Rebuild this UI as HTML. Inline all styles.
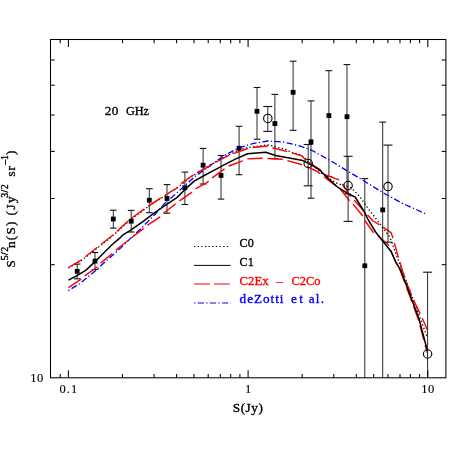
<!DOCTYPE html>
<html><head><meta charset="utf-8"><title>20 GHz source counts</title>
<style>html,body{margin:0;padding:0;background:#fff;}body{width:463px;height:463px;position:relative;overflow:hidden;font-family:"Liberation Serif",serif;}</style>
</head><body>
<svg width="463" height="463" viewBox="0 0 463 463" style="position:absolute;left:0;top:0;will-change:transform;transform:translateZ(0)">
<rect x="0" y="0" width="463" height="463" fill="#fff"/>
<line x1="77.2" y1="264.1" x2="77.2" y2="278.8" stroke="#2a2a2a" stroke-width="1.0"/>
<line x1="73.9" y1="264.1" x2="80.5" y2="264.1" stroke="#111" stroke-width="1.1"/>
<line x1="73.9" y1="278.8" x2="80.5" y2="278.8" stroke="#111" stroke-width="1.1"/>
<rect x="74.8" y="268.9" width="4.8" height="4.8" fill="#000"/>
<line x1="95.0" y1="252.5" x2="95.0" y2="269.5" stroke="#2a2a2a" stroke-width="1.0"/>
<line x1="91.7" y1="252.5" x2="98.3" y2="252.5" stroke="#111" stroke-width="1.1"/>
<line x1="91.7" y1="269.5" x2="98.3" y2="269.5" stroke="#111" stroke-width="1.1"/>
<rect x="92.6" y="258.7" width="4.8" height="4.8" fill="#000"/>
<line x1="113.3" y1="210.2" x2="113.3" y2="228.1" stroke="#2a2a2a" stroke-width="1.0"/>
<line x1="110.0" y1="210.2" x2="116.6" y2="210.2" stroke="#111" stroke-width="1.1"/>
<line x1="110.0" y1="228.1" x2="116.6" y2="228.1" stroke="#111" stroke-width="1.1"/>
<rect x="110.9" y="216.6" width="4.8" height="4.8" fill="#000"/>
<line x1="131.2" y1="210.4" x2="131.2" y2="232.0" stroke="#2a2a2a" stroke-width="1.0"/>
<line x1="127.8" y1="210.4" x2="134.5" y2="210.4" stroke="#111" stroke-width="1.1"/>
<line x1="127.8" y1="232.0" x2="134.5" y2="232.0" stroke="#111" stroke-width="1.1"/>
<rect x="128.8" y="218.8" width="4.8" height="4.8" fill="#000"/>
<line x1="149.3" y1="188.7" x2="149.3" y2="212.7" stroke="#2a2a2a" stroke-width="1.0"/>
<line x1="146.0" y1="188.7" x2="152.7" y2="188.7" stroke="#111" stroke-width="1.1"/>
<line x1="146.0" y1="212.7" x2="152.7" y2="212.7" stroke="#111" stroke-width="1.1"/>
<rect x="146.9" y="197.8" width="4.8" height="4.8" fill="#000"/>
<line x1="167.0" y1="184.6" x2="167.0" y2="213.2" stroke="#2a2a2a" stroke-width="1.0"/>
<line x1="163.7" y1="184.6" x2="170.3" y2="184.6" stroke="#111" stroke-width="1.1"/>
<line x1="163.7" y1="213.2" x2="170.3" y2="213.2" stroke="#111" stroke-width="1.1"/>
<rect x="164.6" y="196.1" width="4.8" height="4.8" fill="#000"/>
<line x1="184.9" y1="172.1" x2="184.9" y2="204.5" stroke="#2a2a2a" stroke-width="1.0"/>
<line x1="181.6" y1="172.1" x2="188.2" y2="172.1" stroke="#111" stroke-width="1.1"/>
<line x1="181.6" y1="204.5" x2="188.2" y2="204.5" stroke="#111" stroke-width="1.1"/>
<rect x="182.5" y="185.3" width="4.8" height="4.8" fill="#000"/>
<line x1="203.1" y1="148.4" x2="203.1" y2="184.0" stroke="#2a2a2a" stroke-width="1.0"/>
<line x1="199.8" y1="148.4" x2="206.4" y2="148.4" stroke="#111" stroke-width="1.1"/>
<line x1="199.8" y1="184.0" x2="206.4" y2="184.0" stroke="#111" stroke-width="1.1"/>
<rect x="200.7" y="162.8" width="4.8" height="4.8" fill="#000"/>
<line x1="221.0" y1="155.5" x2="221.0" y2="199.1" stroke="#2a2a2a" stroke-width="1.0"/>
<line x1="217.7" y1="155.5" x2="224.3" y2="155.5" stroke="#111" stroke-width="1.1"/>
<line x1="217.7" y1="199.1" x2="224.3" y2="199.1" stroke="#111" stroke-width="1.1"/>
<rect x="218.6" y="173.0" width="4.8" height="4.8" fill="#000"/>
<line x1="239.1" y1="126.3" x2="239.1" y2="174.7" stroke="#2a2a2a" stroke-width="1.0"/>
<line x1="235.8" y1="126.3" x2="242.4" y2="126.3" stroke="#111" stroke-width="1.1"/>
<line x1="235.8" y1="174.7" x2="242.4" y2="174.7" stroke="#111" stroke-width="1.1"/>
<rect x="236.7" y="145.9" width="4.8" height="4.8" fill="#000"/>
<line x1="257.0" y1="87.5" x2="257.0" y2="139.2" stroke="#2a2a2a" stroke-width="1.0"/>
<line x1="253.7" y1="87.5" x2="260.4" y2="87.5" stroke="#111" stroke-width="1.1"/>
<line x1="253.7" y1="139.2" x2="260.4" y2="139.2" stroke="#111" stroke-width="1.1"/>
<rect x="254.6" y="108.9" width="4.8" height="4.8" fill="#000"/>
<line x1="274.9" y1="94.4" x2="274.9" y2="158.7" stroke="#2a2a2a" stroke-width="1.0"/>
<line x1="271.5" y1="94.4" x2="278.2" y2="94.4" stroke="#111" stroke-width="1.1"/>
<line x1="271.5" y1="158.7" x2="278.2" y2="158.7" stroke="#111" stroke-width="1.1"/>
<rect x="272.5" y="121.2" width="4.8" height="4.8" fill="#000"/>
<line x1="293.1" y1="61.2" x2="293.1" y2="130.3" stroke="#2a2a2a" stroke-width="1.0"/>
<line x1="289.8" y1="61.2" x2="296.5" y2="61.2" stroke="#111" stroke-width="1.1"/>
<line x1="289.8" y1="130.3" x2="296.5" y2="130.3" stroke="#111" stroke-width="1.1"/>
<rect x="290.7" y="89.9" width="4.8" height="4.8" fill="#000"/>
<line x1="311.0" y1="100.9" x2="311.0" y2="198.2" stroke="#2a2a2a" stroke-width="1.0"/>
<line x1="307.6" y1="100.9" x2="314.4" y2="100.9" stroke="#111" stroke-width="1.1"/>
<line x1="307.6" y1="198.2" x2="314.4" y2="198.2" stroke="#111" stroke-width="1.1"/>
<rect x="308.6" y="139.4" width="4.8" height="4.8" fill="#000"/>
<line x1="328.9" y1="70.7" x2="328.9" y2="176.5" stroke="#2a2a2a" stroke-width="1.0"/>
<line x1="325.5" y1="70.7" x2="332.2" y2="70.7" stroke="#111" stroke-width="1.1"/>
<line x1="325.5" y1="176.5" x2="332.2" y2="176.5" stroke="#111" stroke-width="1.1"/>
<rect x="326.5" y="113.2" width="4.8" height="4.8" fill="#000"/>
<line x1="347.0" y1="64.6" x2="347.0" y2="193.8" stroke="#2a2a2a" stroke-width="1.0"/>
<line x1="343.6" y1="64.6" x2="350.4" y2="64.6" stroke="#111" stroke-width="1.1"/>
<line x1="343.6" y1="193.8" x2="350.4" y2="193.8" stroke="#111" stroke-width="1.1"/>
<rect x="344.6" y="114.3" width="4.8" height="4.8" fill="#000"/>
<line x1="364.8" y1="178.6" x2="364.8" y2="377.8" stroke="#2a2a2a" stroke-width="1.0"/>
<line x1="361.4" y1="178.6" x2="368.2" y2="178.6" stroke="#111" stroke-width="1.1"/>
<rect x="362.4" y="263.4" width="4.8" height="4.8" fill="#000"/>
<line x1="382.7" y1="122.1" x2="382.7" y2="377.8" stroke="#2a2a2a" stroke-width="1.0"/>
<line x1="379.3" y1="122.1" x2="386.1" y2="122.1" stroke="#111" stroke-width="1.1"/>
<rect x="380.3" y="207.5" width="4.8" height="4.8" fill="#000"/>
<g fill="none" stroke-linejoin="round">
<path d="M68.4 290.6 L79.5 283.7 L92.5 273.3 L105.5 261.6 L120.0 248.6 L129.5 239.4 L142.5 227.0 L155.4 214.0 L165.2 202.8 L173.0 196.3 L186.0 184.6 L193.8 177.5 L204.2 169.7 L220.0 158.6 L223.0 156.3 L238.5 147.9 L252.8 143.6 L267.8 141.0 L283.3 142.0 L298.9 145.7 L311.8 150.3 L320.0 154.8 L334.0 162.8 L348.1 171.4 L364.9 181.5 L382.6 192.5 L402.1 203.2 L426.8 214.3" stroke="#0000ff" stroke-width="1.3" stroke-dasharray="1.3 2.4 6.2 2.3"/>
<path d="M68.4 268.0 L80.8 260.9 L96.4 248.7 L112.0 236.4 L130.8 219.3 L149.0 206.2 L165.2 195.5 L178.2 187.0 L192.5 175.8 L209.4 165.5 L226.8 156.0 L238.5 150.0 L247.6 147.6 L267.7 144.8 L273.0 146.1 L285.9 149.6 L291.1 152.2 L301.5 155.0 L308.0 161.5 L315.0 166.5 L320.0 172.0 L335.4 182.7 L351.3 188.0 L358.8 195.5 L364.9 203.8 L369.1 210.0 L374.3 216.5 L380.7 224.9 L386.0 232.0 L389.8 237.2 L392.4 243.7 L395.0 251.5 L398.9 261.8 L404.0 275.0 L418.3 313.0 L427.3 337.5" stroke="#000" stroke-width="1.3" stroke-dasharray="1.3 2.35"/>
<path d="M68.4 287.6 L80.1 279.8 L84.7 275.9 L96.4 267.5 L100.9 262.9 L112.0 253.8 L120.0 246.7 L143.8 228.3 L147.7 225.1 L160.0 216.9 L163.2 213.4 L170.0 208.2 L179.5 200.8 L191.8 192.4 L195.0 189.2 L206.8 182.7 L212.0 178.1 L224.9 168.6 L228.8 166.0 L242.4 160.8 L246.9 158.9 L262.5 158.2 L267.0 158.4 L282.0 159.3 L287.2 160.6 L301.5 164.5 L316.4 171.0 L331.6 182.7 L340.0 188.7 L349.0 200.0 L352.8 203.8 L363.4 216.7 L365.2 221.0 L373.0 232.0 L377.5 235.3 L388.5 245.0 L391.1 251.5 L395.6 261.8 L400.4 271.0 L409.2 294.6 L418.2 319.0 L427.3 353.0" stroke="#ff0000" stroke-width="1.4" stroke-dasharray="15.3 4.85"/>
<path d="M68.4 267.5 L80.8 260.3 L96.4 248.0 L112.0 235.7 L130.8 218.6 L149.0 205.6 L165.2 195.0 L178.2 187.2 L181.4 183.3 L192.5 175.5 L197.7 172.3 L209.4 166.4 L213.9 163.3 L226.8 156.3 L233.3 153.7 L247.6 148.5 L252.8 147.5 L267.1 146.0 L272.3 147.7 L287.2 151.6 L291.7 152.9 L301.5 155.8 L307.9 161.9 L320.0 169.7 L324.0 174.4 L338.4 179.7 L343.0 185.0 L350.5 196.3 L355.0 201.0 L364.9 212.2 L373.0 221.0 L380.7 225.6 L391.1 232.7 L393.0 237.9 L394.4 243.1 L397.6 254.7 L402.1 269.6 L406.2 282.0 L412.6 298.2 L422.2 317.9 L427.3 330.0" stroke="#ff0000" stroke-width="1.4" stroke-dasharray="15.3 4.85"/>
<path d="M68.4 280.2 L77.5 275.3 L86.0 270.1 L95.1 261.6 L104.2 252.5 L112.0 244.7 L120.0 237.9 L123.0 234.8 L129.5 230.9 L142.5 221.8 L155.4 212.1 L167.1 204.1 L176.9 197.6 L185.3 189.2 L193.8 181.4 L204.2 175.5 L220.0 167.1 L223.0 165.4 L235.9 158.9 L247.6 153.7 L265.7 152.3 L275.6 155.5 L302.8 160.6 L311.8 165.2 L319.5 169.8 L326.3 176.6 L337.7 187.2 L347.5 193.3 L355.1 197.0 L364.1 211.4 L367.8 219.1 L375.6 232.0 L383.3 241.8 L391.1 251.5 L395.6 261.8 L400.8 270.4 L409.8 294.2 L418.8 318.2 L427.5 351.0" stroke="#000" stroke-width="1.5"/>
</g>
<line x1="267.8" y1="106.5" x2="267.8" y2="131.4" stroke="#2a2a2a" stroke-width="1.0"/>
<line x1="263.3" y1="106.5" x2="272.3" y2="106.5" stroke="#111" stroke-width="1.1"/>
<line x1="263.3" y1="131.4" x2="272.3" y2="131.4" stroke="#111" stroke-width="1.1"/>
<circle cx="267.8" cy="118.4" r="4.2" fill="none" stroke="#000" stroke-width="1.1"/>
<line x1="308.2" y1="144.5" x2="308.2" y2="185.8" stroke="#2a2a2a" stroke-width="1.0"/>
<line x1="303.7" y1="144.5" x2="312.7" y2="144.5" stroke="#111" stroke-width="1.1"/>
<line x1="303.7" y1="185.8" x2="312.7" y2="185.8" stroke="#111" stroke-width="1.1"/>
<circle cx="308.2" cy="163.5" r="4.2" fill="none" stroke="#000" stroke-width="1.1"/>
<line x1="348.1" y1="156.3" x2="348.1" y2="221.4" stroke="#2a2a2a" stroke-width="1.0"/>
<line x1="343.6" y1="156.3" x2="352.6" y2="156.3" stroke="#111" stroke-width="1.1"/>
<line x1="343.6" y1="221.4" x2="352.6" y2="221.4" stroke="#111" stroke-width="1.1"/>
<circle cx="348.1" cy="185.5" r="4.2" fill="none" stroke="#000" stroke-width="1.1"/>
<line x1="388.0" y1="145.1" x2="388.0" y2="242.2" stroke="#2a2a2a" stroke-width="1.0"/>
<line x1="383.5" y1="145.1" x2="392.5" y2="145.1" stroke="#111" stroke-width="1.1"/>
<line x1="383.5" y1="242.2" x2="392.5" y2="242.2" stroke="#111" stroke-width="1.1"/>
<circle cx="388.0" cy="186.6" r="4.2" fill="none" stroke="#000" stroke-width="1.1"/>
<line x1="427.6" y1="272.2" x2="427.6" y2="377.8" stroke="#2a2a2a" stroke-width="1.0"/>
<line x1="423.1" y1="272.2" x2="432.1" y2="272.2" stroke="#111" stroke-width="1.1"/>
<circle cx="427.6" cy="354.0" r="4.2" fill="none" stroke="#000" stroke-width="1.1"/>
<g stroke="#000" stroke-width="1.05" fill="none">
<rect x="50.5" y="39.5" width="395.4" height="338.3"/>
<line x1="60.2" y1="377.8" x2="60.2" y2="374.0"/>
<line x1="60.2" y1="39.5" x2="60.2" y2="43.3"/>
<line x1="68.4" y1="377.8" x2="68.4" y2="370.2"/>
<line x1="68.4" y1="39.5" x2="68.4" y2="47.1"/>
<line x1="122.5" y1="377.8" x2="122.5" y2="374.0"/>
<line x1="122.5" y1="39.5" x2="122.5" y2="43.3"/>
<line x1="154.1" y1="377.8" x2="154.1" y2="374.0"/>
<line x1="154.1" y1="39.5" x2="154.1" y2="43.3"/>
<line x1="176.6" y1="377.8" x2="176.6" y2="374.0"/>
<line x1="176.6" y1="39.5" x2="176.6" y2="43.3"/>
<line x1="194.0" y1="377.8" x2="194.0" y2="374.0"/>
<line x1="194.0" y1="39.5" x2="194.0" y2="43.3"/>
<line x1="208.2" y1="377.8" x2="208.2" y2="374.0"/>
<line x1="208.2" y1="39.5" x2="208.2" y2="43.3"/>
<line x1="220.3" y1="377.8" x2="220.3" y2="374.0"/>
<line x1="220.3" y1="39.5" x2="220.3" y2="43.3"/>
<line x1="230.7" y1="377.8" x2="230.7" y2="374.0"/>
<line x1="230.7" y1="39.5" x2="230.7" y2="43.3"/>
<line x1="239.9" y1="377.8" x2="239.9" y2="374.0"/>
<line x1="239.9" y1="39.5" x2="239.9" y2="43.3"/>
<line x1="248.1" y1="377.8" x2="248.1" y2="370.2"/>
<line x1="248.1" y1="39.5" x2="248.1" y2="47.1"/>
<line x1="302.2" y1="377.8" x2="302.2" y2="374.0"/>
<line x1="302.2" y1="39.5" x2="302.2" y2="43.3"/>
<line x1="333.8" y1="377.8" x2="333.8" y2="374.0"/>
<line x1="333.8" y1="39.5" x2="333.8" y2="43.3"/>
<line x1="356.3" y1="377.8" x2="356.3" y2="374.0"/>
<line x1="356.3" y1="39.5" x2="356.3" y2="43.3"/>
<line x1="373.7" y1="377.8" x2="373.7" y2="374.0"/>
<line x1="373.7" y1="39.5" x2="373.7" y2="43.3"/>
<line x1="387.9" y1="377.8" x2="387.9" y2="374.0"/>
<line x1="387.9" y1="39.5" x2="387.9" y2="43.3"/>
<line x1="400.0" y1="377.8" x2="400.0" y2="374.0"/>
<line x1="400.0" y1="39.5" x2="400.0" y2="43.3"/>
<line x1="410.4" y1="377.8" x2="410.4" y2="374.0"/>
<line x1="410.4" y1="39.5" x2="410.4" y2="43.3"/>
<line x1="419.6" y1="377.8" x2="419.6" y2="374.0"/>
<line x1="419.6" y1="39.5" x2="419.6" y2="43.3"/>
<line x1="427.8" y1="377.8" x2="427.8" y2="370.2"/>
<line x1="427.8" y1="39.5" x2="427.8" y2="47.1"/>
<line x1="50.5" y1="264.7" x2="54.7" y2="264.7"/>
<line x1="445.9" y1="264.7" x2="441.7" y2="264.7"/>
<line x1="50.5" y1="198.5" x2="54.7" y2="198.5"/>
<line x1="445.9" y1="198.5" x2="441.7" y2="198.5"/>
<line x1="50.5" y1="151.4" x2="54.7" y2="151.4"/>
<line x1="445.9" y1="151.4" x2="441.7" y2="151.4"/>
<line x1="50.5" y1="115.0" x2="54.7" y2="115.0"/>
<line x1="445.9" y1="115.0" x2="441.7" y2="115.0"/>
<line x1="50.5" y1="85.2" x2="54.7" y2="85.2"/>
<line x1="445.9" y1="85.2" x2="441.7" y2="85.2"/>
<line x1="50.5" y1="60.0" x2="54.7" y2="60.0"/>
<line x1="445.9" y1="60.0" x2="441.7" y2="60.0"/>
</g>
<line x1="194" y1="246.5" x2="230.6" y2="246.5" stroke="#000" stroke-width="1.1" stroke-dasharray="1.3 2.35"/>
<line x1="194" y1="265.4" x2="230.5" y2="265.4" stroke="#000" stroke-width="1.0"/>
<line x1="194" y1="284" x2="230.1" y2="284" stroke="#ff0000" stroke-width="1.15" stroke-dasharray="15.9 4"/>
<line x1="194" y1="303.0" x2="231" y2="303.0" stroke="#0000ff" stroke-width="1.0" stroke-dasharray="1.3 2.4 6.2 2.3"/>
<text transform="translate(239.6,247.2) scale(0.92,1)" font-family="Liberation Serif, serif" font-size="13.2" fill="#000" stroke="#000" stroke-width="0.35">C0</text>
<text transform="translate(239.6,266.0) scale(0.92,1)" font-family="Liberation Serif, serif" font-size="13.2" fill="#000" stroke="#000" stroke-width="0.35">C1</text>
<text transform="translate(239.6,284.5) scale(0.965,1)" font-family="Liberation Serif, serif" font-size="13.2" fill="#ff0000" stroke="#ff0000" stroke-width="0.35">C2Ex</text>
<text x="276.2" y="284.5" font-family="Liberation Serif, serif" font-size="13.2" fill="#ff0000" stroke="#ff0000" stroke-width="0.35" text-anchor="start"  textLength="7.4" lengthAdjust="spacing">–</text>
<text transform="translate(291.4,284.5) scale(0.945,1)" font-family="Liberation Serif, serif" font-size="13.2" fill="#ff0000" stroke="#ff0000" stroke-width="0.35">C2Co</text>
<text x="239.6" y="303.0" font-family="Liberation Serif, serif" font-size="13.2" fill="#0000ff" stroke="#0000ff" stroke-width="0.35" text-anchor="start"  textLength="43.9" lengthAdjust="spacing">deZotti</text>
<text x="291.0" y="303.0" font-family="Liberation Serif, serif" font-size="13.2" fill="#0000ff" stroke="#0000ff" stroke-width="0.35" text-anchor="start"  textLength="11.8" lengthAdjust="spacing">et</text>
<text x="308.8" y="303.0" font-family="Liberation Serif, serif" font-size="13.2" fill="#0000ff" stroke="#0000ff" stroke-width="0.35" text-anchor="start"  textLength="15.2" lengthAdjust="spacing">al.</text>
<text x="104.8" y="115.1" font-family="Liberation Serif, serif" font-size="13.2" fill="#000" stroke="#000" stroke-width="0.35" text-anchor="start"  textLength="13.6" lengthAdjust="spacing">20</text>
<text transform="translate(125.9,115.1) scale(0.93,1)" font-family="Liberation Serif, serif" font-size="13.2" fill="#000" stroke="#000" stroke-width="0.35">GHz</text>
<text x="232.8" y="412.3" font-family="Liberation Serif, serif" font-size="13.2" fill="#000" stroke="#000" stroke-width="0.35" text-anchor="start"  textLength="30.0" lengthAdjust="spacing">S(Jy)</text>
<text x="30.3" y="381.9" font-family="Liberation Serif, serif" font-size="12.5" fill="#000" stroke="#000" stroke-width="0.12" text-anchor="start"  textLength="12.9" lengthAdjust="spacing">10</text>
<text x="59.5" y="393.1" font-family="Liberation Serif, serif" font-size="12.5" fill="#000" stroke="#000" stroke-width="0.12" text-anchor="start"  textLength="17.8" lengthAdjust="spacing">0.1</text>
<text x="244.9" y="393.1" font-family="Liberation Serif, serif" font-size="12.5" fill="#000" stroke="#000" stroke-width="0.12" text-anchor="start" >1</text>
<text x="421.3" y="393.0" font-family="Liberation Serif, serif" font-size="12.5" fill="#000" stroke="#000" stroke-width="0.12" text-anchor="start"  textLength="12.9" lengthAdjust="spacing">10</text>
<g transform="translate(14.7,267.5) rotate(-90)" font-family="Liberation Serif, serif" fill="#000" stroke="#000" stroke-width="0.35">
<text x="0.0" y="0.0" font-size="13.2">S</text>
<text x="7.2" y="-6.6" font-size="9.8" textLength="13.4" lengthAdjust="spacing">5/2</text>
<text x="19.4" y="0.0" font-size="13.2" textLength="26.6" lengthAdjust="spacing">n(S)</text>
<text x="52.0" y="0.0" font-size="13.2" textLength="19.2" lengthAdjust="spacing">(Jy</text>
<text x="69.8" y="-6.6" font-size="9.8" textLength="13.4" lengthAdjust="spacing">3/2</text>
<text x="90.9" y="0.0" font-size="13.2" textLength="10.6" lengthAdjust="spacing">sr</text>
<text x="102.8" y="-6.6" font-size="9.8" textLength="9.6" lengthAdjust="spacing">–1</text>
<text x="112.6" y="0.0" font-size="13.2">)</text>
</g>
</svg>
</body></html>
